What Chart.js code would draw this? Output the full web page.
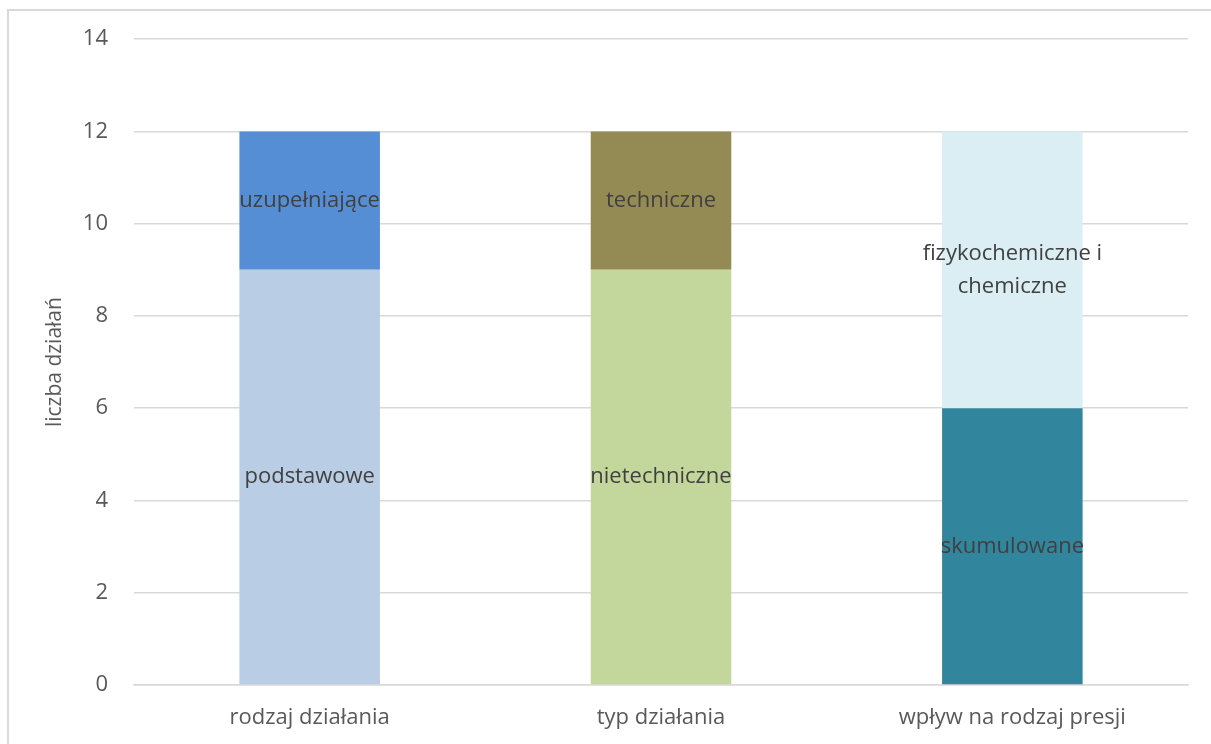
<!DOCTYPE html>
<html>
<head>
<meta charset="utf-8">
<script src="https://cdn.jsdelivr.net/npm/chart.js@4.4.0/dist/chart.umd.min.js"></script>
<style>
    body { margin: 0; background: #fff; overflow: hidden; }
    #frame { position: absolute; left: 7px; top: 9px; width: 1220px; height: 760px; border: 2px solid #d9d9d9; }
    #wrap { position: absolute; left: 0; top: 0; width: 1211px; height: 744px; }
</style>
</head>
<body>
<div id="frame"></div>
<div id="wrap"><canvas id="barChart"></canvas></div>
<script>
// kategorie i wartości
const categories = ['rodzaj działania', 'typ działania', 'wpływ na rodzaj presji'];
const bottomValues = [9, 9, 6];
const topValues = [3, 3, 6];
const bottomLabels = ['podstawowe', 'nietechniczne', 'skumulowane'];
const topLabels = ['uzupełniające', 'techniczne', ['fizykochemiczne i', 'chemiczne']];
const bottomColors = ['#b9cde5', '#c3d69b', '#31859c'];
const topColors = ['#558ed5', '#948a54', '#dbeef4'];
const yTicks = [0, 2, 4, 6, 8, 10, 12, 14];

const FONT = '"Open Sans", sans-serif';

// rysuje podpisy w środku segmentów
const segmentLabels = {
    id: 'segmentLabels',
    afterDatasetsDraw(chart) {
        const ctx = chart.ctx;
        ctx.save();
        ctx.font = '22px ' + FONT;
        ctx.fillStyle = '#404040';
        ctx.textAlign = 'center';
        ctx.textBaseline = 'middle';
        chart.data.datasets.forEach((ds, di) => {
            const meta = chart.getDatasetMeta(di);
            meta.data.forEach((bar, i) => {
                const text = ds.segLabels[i];
                const lines = Array.isArray(text) ? text : [text];
                const cy = (bar.y + bar.base) / 2;
                const lh = 33;
                lines.forEach((line, k) => {
                    ctx.fillText(line, bar.x, cy + (k - (lines.length - 1) / 2) * lh);
                });
            });
        });
        ctx.restore();
    }
};

const ctx = document.getElementById('barChart').getContext('2d');
const barChart = new Chart(ctx, {
    type: 'bar',
    data: {
        labels: categories,
        datasets: [
            {
                label: 'dolny',
                data: bottomValues,
                backgroundColor: bottomColors,
                segLabels: bottomLabels,
                categoryPercentage: 0.8,
                barPercentage: 0.5
            },
            {
                label: 'górny',
                data: topValues,
                backgroundColor: topColors,
                segLabels: topLabels,
                categoryPercentage: 0.8,
                barPercentage: 0.5
            }
        ]
    },
    options: {
        responsive: true,
        maintainAspectRatio: false,
        animation: false,
        layout: {
            padding: { left: 0, right: 23, top: 32, bottom: 0 }
        },
        plugins: {
            legend: { display: false },
            tooltip: { enabled: false }
        },
        scales: {
            x: {
                stacked: true,
                afterFit(scale) {
                    scale.height = 59;
                },
                grid: { display: false, drawTicks: false },
                border: { color: '#d9d9d9', width: 1.5 },
                ticks: {
                    color: '#595959',
                    font: { family: FONT, size: 22 },
                    padding: 20
                }
            },
            y: {
                stacked: true,
                min: 0,
                max: 14,
                afterBuildTicks(scale) {
                    scale.ticks = yTicks.map(v => ({ value: v }));
                },
                afterFit(scale) {
                    scale.width = 134;
                },
                grid: { color: '#d9d9d9', lineWidth: 1.5, drawTicks: false },
                border: { display: false },
                ticks: {
                    color: '#595959',
                    font: { family: FONT, size: 22 },
                    padding: 26
                },
                title: {
                    display: true,
                    text: 'liczba działań',
                    color: '#595959',
                    font: { family: FONT, size: 21 },
                    padding: { top: 42, bottom: 0 }
                }
            }
        }
    },
    plugins: [segmentLabels]
});
</script>
</body>
</html>
